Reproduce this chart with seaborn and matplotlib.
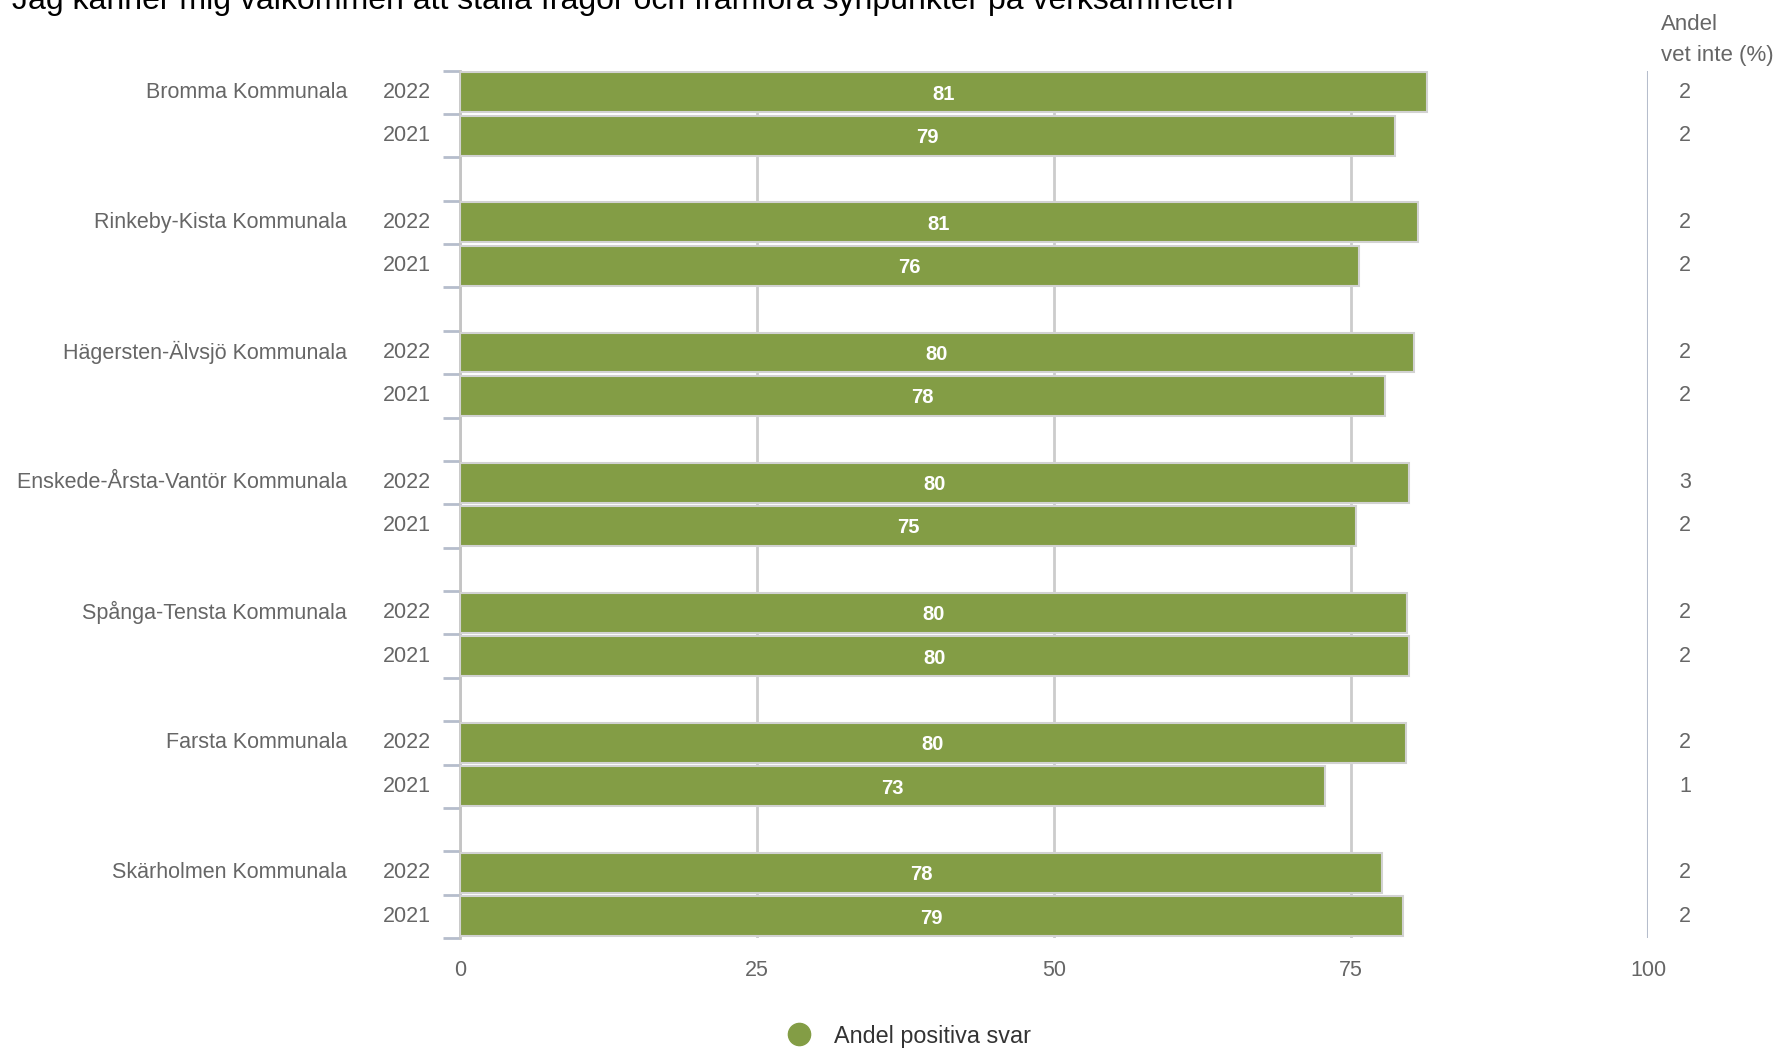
import pandas as pd
import matplotlib.pyplot as plt
import seaborn as sns
from matplotlib.lines import Line2D

# Data
kommuner = ['Bromma Kommunala', 'Rinkeby-Kista Kommunala', 'Hägersten-Älvsjö Kommunala',
            'Enskede-Årsta-Vantör Kommunala', 'Spånga-Tensta Kommunala', 'Farsta Kommunala',
            'Skärholmen Kommunala']
ar = ['2022', '2021']
positiva_2022 = [81.4, 80.6, 80.3, 79.9, 79.7, 79.6, 77.6]
positiva_2021 = [78.7, 75.7, 77.9, 75.4, 79.9, 72.8, 79.4]
vet_inte_2022 = [2, 2, 2, 3, 2, 2, 2]
vet_inte_2021 = [2, 2, 2, 2, 2, 1, 2]
titel = 'Jag känner mig välkommen att ställa frågor och framföra synpunkter på verksamheten'

GRON = '#839d45'
GRA_TEXT = '#666666'

# Slots: 2022, 2021 and an empty gap between every kommun
rader = []
slots = []
for i, k in enumerate(kommuner):
    for a, v, vi in ((ar[0], positiva_2022[i], vet_inte_2022[i]),
                     (ar[1], positiva_2021[i], vet_inte_2021[i])):
        key = f'{k}|{a}'
        slots.append(key)
        rader.append({'slot': key, 'kommun': k, 'ar': a, 'positiva': v, 'vet_inte': vi})
    if i < len(kommuner) - 1:
        slots.append(f'gap{i}')
df = pd.DataFrame(rader)
df['pos'] = df['slot'].map({s: n for n, s in enumerate(slots)})

sns.set_style('white')
plt.rcParams['font.family'] = ['Liberation Sans', 'DejaVu Sans']

fig = plt.figure(figsize=(17.85, 10.52), dpi=100)
ax = fig.add_axes([460 / 1785, 1 - 938 / 1052, 1188 / 1785, 867.4 / 1052])

sns.barplot(data=df, x='positiva', y='slot', order=slots, color=GRON, saturation=1,
            width=0.92, edgecolor='#d2d2d2', linewidth=1.5, errorbar=None, ax=ax, zorder=3)

ax.set_xlim(0, 100)
ax.set_xticks([0, 25, 50, 75, 100])
ax.xaxis.grid(True, color='#cccccc', linewidth=2)
ax.set_axisbelow(True)
ax.axvline(100, color='#b6bdcc', linewidth=2.2, zorder=4)

ax.set_yticks(df['pos'])
ax.set_yticklabels(df['ar'], va='center')
ax.set_yticks([p - 0.5 for p in range(len(slots) + 1)], minor=True)
ax.tick_params(axis='y', which='major', length=0, pad=21, labelsize=15.5, labelcolor=GRA_TEXT)
ax.tick_params(axis='y', which='minor', length=12, width=2, color='#b6bdcc', left=True)
ax.tick_params(axis='x', length=0, pad=16, labelsize=15.5, labelcolor=GRA_TEXT)
ax.set_xlabel('')
ax.set_ylabel('')

for side in ('top', 'right', 'bottom'):
    ax.spines[side].set_visible(False)
ax.spines['left'].set_color('#c4c4c4')
ax.spines['left'].set_linewidth(2)

ytrans = ax.get_yaxis_transform()
for _, r in df.iterrows():
    ax.text(r['positiva'] / 2, r['pos'], f"{r['positiva']:.0f}", color='white',
            fontsize=14.5, fontweight='bold', ha='center', va='center_baseline', zorder=5)
    ax.text(1.031, r['pos'], f"{r['vet_inte']}", transform=ytrans, color=GRA_TEXT,
            fontsize=15.5, ha='center', va='center', clip_on=False)
    if r['ar'] == ar[0]:
        ax.text(-0.0951, r['pos'], r['kommun'], transform=ytrans, color=GRA_TEXT,
                fontsize=15.5, ha='right', va='center', clip_on=False)

fig.text(1661 / 1785, 1 - 25 / 1052, 'Andel', color=GRA_TEXT, fontsize=16,
         ha='left', va='center')
fig.text(1661 / 1785, 1 - 55 / 1052, 'vet inte (%)', color=GRA_TEXT, fontsize=16,
         ha='left', va='center')

fig.text(12 / 1785, 1 - 9 / 1052, titel, color='black', fontsize=23,
         ha='left', va='baseline')

handle = Line2D([], [], marker='o', linestyle='', markersize=16, color=GRON)
fig.legend([handle], ['Andel positiva svar'], loc='center',
           bbox_to_anchor=(903 / 1785, 1 - 1036 / 1052), frameon=False,
           fontsize=16.8, labelcolor='#333333', handletextpad=0.5, borderpad=0)

fig.savefig('out.png', dpi=100)
